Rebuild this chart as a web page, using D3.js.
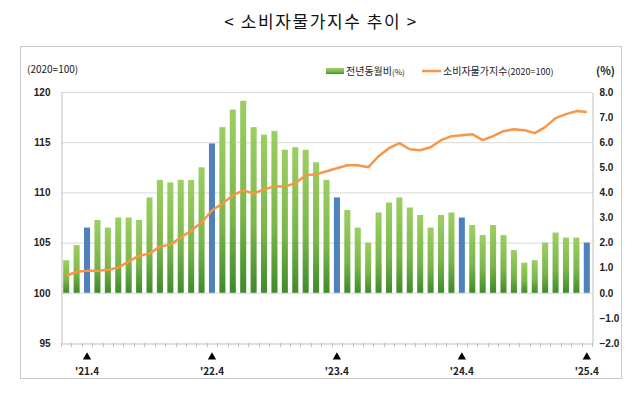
<!DOCTYPE html>
<html>
<head>
<meta charset="utf-8">
<script src="https://cdn.jsdelivr.net/npm/d3@7"></script>
<style>
  body { margin: 0; background: #fff; }
  svg { display: block; font-family: "Noto Sans CJK KR", "Noto Sans", sans-serif; }
</style>
</head>
<body>
<svg id="chart" width="640" height="393"></svg>
<script>
// months '21.2 ~ '25.4
var months = [];
for (var y = 2021; y <= 2025; y++) {
  for (var m = 1; m <= 12; m++) {
    if (y === 2021 && m < 2) continue;
    if (y === 2025 && m > 4) continue;
    months.push(String(y).slice(2) + "." + m);
  }
}

// 전년동월비 (%)
var yoy = [1.3, 1.9, 2.6, 2.9, 2.6, 3.0, 3.0, 2.9, 3.8, 4.5, 4.4,
  4.5, 4.5, 5.0, 5.95, 6.6, 7.3, 7.65, 6.6, 6.3, 6.45, 5.7, 5.8, 5.7,
  5.2, 4.5, 3.8, 3.3, 2.6, 2.0, 3.2, 3.6, 3.8, 3.4, 3.1, 2.6,
  3.1, 3.2, 3.0, 2.7, 2.3, 2.7, 2.3, 1.7, 1.2, 1.3, 2.0, 2.4,
  2.2, 2.2, 2.0];

// 소비자물가지수 (2020=100)
var cpi = [101.7, 102.1, 102.2, 102.2, 102.3, 102.5, 103.1, 103.7, 103.9, 104.6, 104.8,
  105.5, 106.2, 107.0, 108.2, 108.9, 109.7, 110.2, 109.9, 110.3, 110.6, 110.6, 110.9, 111.7,
  111.8, 112.1, 112.4, 112.7, 112.7, 112.5, 113.6, 114.4, 114.9, 114.3, 114.2, 114.5,
  115.2, 115.6, 115.7, 115.8, 115.2, 115.6, 116.1, 116.3, 116.2, 115.9, 116.5, 117.4,
  117.8, 118.1, 118.0];

var leftTicks = [95, 100, 105, 110, 115, 120];
var rightTicks = [-2, -1, 0, 1, 2, 3, 4, 5, 6, 7, 8];
var markLabels = ["21.4", "22.4", "23.4", "24.4", "25.4"];

var svg = d3.select("#chart");
var plot = { left: 61, right: 592, top: 92, bottom: 343 };

var x = d3.scaleBand().domain(months).range([plot.left, plot.right]).paddingInner(0.42).paddingOuter(0.21);
var yL = d3.scaleLinear().domain([95, 120]).range([plot.bottom, plot.top]);
var yR = d3.scaleLinear().domain([-2, 8]).range([plot.bottom, plot.top]);

// gradient for green bars
var defs = svg.append("defs");
var grad = defs.append("linearGradient").attr("id", "green").attr("x1", 0).attr("y1", 0).attr("x2", 0).attr("y2", 1);
grad.append("stop").attr("offset", "0%").attr("stop-color", "#9ccf62");
grad.append("stop").attr("offset", "60%").attr("stop-color", "#7ab64a");
grad.append("stop").attr("offset", "100%").attr("stop-color", "#3f8a2c");

// frame
svg.append("rect").attr("x", 20.5).attr("y", 46.5).attr("width", 601).attr("height", 332)
  .attr("fill", "none").attr("stroke", "#c9c9c9");

// title
svg.append("text").attr("x", 321).attr("y", 28).attr("text-anchor", "middle")
  .attr("font-size", 17).attr("letter-spacing", 1.6).attr("fill", "#111").text("< 소비자물가지수 추이 >");

// gridlines
svg.append("g").selectAll("line").data(leftTicks.filter(function (d) { return d > 95; }))
  .enter().append("line")
  .attr("x1", plot.left).attr("x2", plot.right)
  .attr("y1", function (d) { return yL(d) + 0.5; }).attr("y2", function (d) { return yL(d) + 0.5; })
  .attr("stroke", "#d9d9d9");

// axes
var axL = svg.append("g").attr("transform", "translate(" + (plot.left + 0.5) + ",0)")
  .call(d3.axisLeft(yL).tickValues(leftTicks).tickSize(0).tickPadding(11).tickFormat(d3.format("d")));
var axR = svg.append("g").attr("transform", "translate(" + (plot.right + 0.5) + ",0)")
  .call(d3.axisRight(yR).tickValues(rightTicks).tickSize(0).tickPadding(7).tickFormat(d3.format(".1f")));
var axB = svg.append("g").attr("transform", "translate(0," + (plot.bottom + 0.5) + ")")
  .call(d3.axisBottom(x).tickSize(0).tickFormat(""));
[axL, axR, axB].forEach(function (a) {
  a.select(".domain").attr("stroke", "#bfbfbf");
  a.selectAll("text").attr("font-size", 10).attr("font-weight", "bold").attr("fill", "#222");
});

// minor ticks on the x axis at category boundaries
svg.append("g").selectAll("line").data(months.concat(["end"]))
  .enter().append("line")
  .attr("x1", function (d, i) { return Math.round(plot.left + i * x.step()) + 0.5; })
  .attr("x2", function (d, i) { return Math.round(plot.left + i * x.step()) + 0.5; })
  .attr("y1", plot.bottom).attr("y2", plot.bottom + 4)
  .attr("stroke", "#bfbfbf");

// bars
svg.append("g").selectAll("rect").data(yoy)
  .enter().append("rect")
  .attr("x", function (d, i) { return x(months[i]); })
  .attr("width", x.bandwidth())
  .attr("y", function (d) { return yR(d); })
  .attr("height", function (d) { return yR(0) - yR(d); })
  .attr("fill", function (d, i) { return months[i].slice(-2) === ".4" ? "#4f81bd" : "url(#green)"; });

// line
var line = d3.line()
  .x(function (d, i) { return x(months[i]) + x.bandwidth() / 2; })
  .y(function (d) { return yL(d); });
svg.append("path").datum(cpi).attr("d", line)
  .attr("fill", "none").attr("stroke", "#f79646").attr("stroke-width", 2.5)
  .attr("stroke-linejoin", "round");

// markers and labels for April
var marks = svg.append("g").selectAll("g").data(markLabels).enter().append("g")
  .attr("transform", function (d) { return "translate(" + (x(d) + x.bandwidth() / 2) + ",0)"; });
marks.append("path").attr("d", d3.symbol().type(d3.symbolTriangle).size(30))
  .attr("transform", "translate(0,357)").attr("fill", "#000");
marks.append("text").attr("y", 375).attr("text-anchor", "middle")
  .attr("font-size", 10).attr("font-weight", "bold").attr("fill", "#222")
  .text(function (d) { return "'" + d; });

// unit labels
svg.append("text").attr("x", 27).attr("y", 73).attr("font-size", 10).attr("fill", "#222").text("(2020=100)");
svg.append("text").attr("x", 596).attr("y", 75).attr("font-size", 11).attr("font-weight", "bold").attr("fill", "#222").text("(%)");

// legend
var legend = svg.append("g");
legend.append("rect").attr("x", 326).attr("y", 68).attr("width", 18).attr("height", 6).attr("fill", "url(#green)");
legend.append("text").attr("x", 346).attr("y", 75).attr("font-size", 10).attr("fill", "#222")
  .html('전년동월비<tspan font-size="8">(%)</tspan>');
legend.append("line").attr("x1", 422).attr("x2", 441).attr("y1", 71).attr("y2", 71)
  .attr("stroke", "#f79646").attr("stroke-width", 2.5);
legend.append("text").attr("x", 443).attr("y", 75).attr("font-size", 10).attr("fill", "#222")
  .html('소비자물가지수<tspan font-size="9">(2020=100)</tspan>');
</script>
</body>
</html>
